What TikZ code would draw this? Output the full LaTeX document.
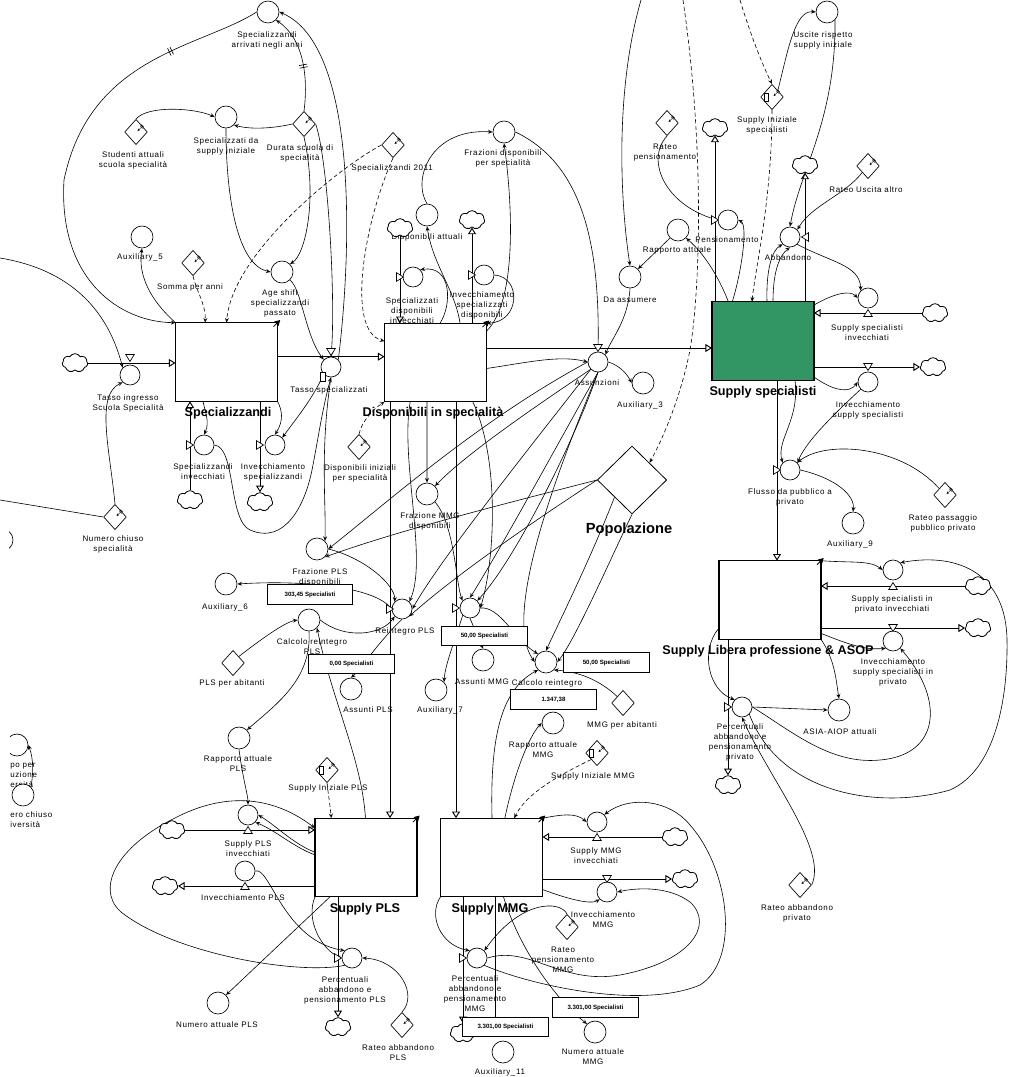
\documentclass[tikz,border=0pt]{standalone}
\usepackage{fontspec}
\newfontfamily\lblfont[LetterSpace=8]{Liberation Sans}
\newfontfamily\stkfont{Liberation Sans}
\usetikzlibrary{shapes.geometric,shapes.symbols,arrows.meta,decorations.markings}
\definecolor{stockgreen}{RGB}{50,150,100}
\pgfdeclarelayer{bg}
\pgfsetlayers{bg,main}
\begin{document}
\begin{tikzpicture}[x=0.75pt,y=-0.75pt,
 stockbox/.style={draw, line width=0.8pt, fill=white, minimum width=76.5pt, minimum height=59pt, inner sep=0, outer sep=0},
 auxc/.style={circle, draw, line width=0.5pt, fill=white, minimum size=16.5pt, inner sep=0},
 valvec/.style={circle, draw, line width=0.5pt, fill=white, minimum size=15pt, inner sep=0},
 constd/.style={diamond, draw, line width=0.5pt, fill=white, minimum width=17pt, minimum height=19pt, inner sep=0},
 cloudn/.style={cloud, cloud puffs=7, cloud puff arc=120, aspect=1.4, draw, line width=0.6pt, fill=white, minimum width=19pt, minimum height=14pt, inner sep=0},
 lbl/.style={font=\lblfont\fontsize{6}{7.5}\selectfont, align=center, inner sep=0},
 stklbl/.style={font=\stkfont\bfseries\fontsize{9.5}{11}\selectfont, inner sep=0},
 valbox/.style={draw, line width=0.7pt, fill=white, minimum width=64pt, minimum height=14.5pt, inner sep=0, font=\stkfont\bfseries\fontsize{4.6}{5}\selectfont},
 flow/.style={line width=0.7pt, -{Triangle[open,length=5pt,width=6pt]}},
 plainln/.style={line width=0.6pt},
 conn/.style={line width=0.45pt, -{Stealth[open,length=3.5pt,width=3pt]}},
 dconn/.style={conn, dash pattern=on 3pt off 2pt},
 delaymk/.style={postaction={decorate, decoration={markings, mark=at position #1 with {\draw[-, solid, line width=0.5pt] (-1pt,-3pt)--(-1pt,3pt) (1pt,-3pt)--(1pt,3pt);}}}},
 vtri/.pic={\draw[line width=0.5pt, fill=white] (-3.2pt,2.6pt) -- (3.2pt,2.6pt) -- (0,-2.6pt) -- cycle;},
 dicon/.pic={\draw[line width=0.35pt,-{Stealth[length=1.8pt,width=1.8pt]}] (5pt,4.5pt) -- (1.2pt,0.8pt); \draw[line width=0.3pt] (3pt,4.8pt)--(5.2pt,2.6pt) (4pt,5.6pt)--(6pt,3.6pt);},
 docicon/.pic={\draw[line width=0.6pt, fill=white] (-6pt,-3.5pt) rectangle (-2.5pt,2.5pt);},
 cornarrow/.pic={\fill (2pt,2pt) -- (-2.5pt,0.8pt) -- (0.8pt,-2.5pt) -- cycle; \draw[line width=0.6pt] (0,0) -- (-3pt,-3pt);}
]
\useasboundingbox (0,0) rectangle (1011,1077);

% ---------------- stocks
\node[stockbox] (spz) at (226.5,362) {};
\node[stockbox] (disp) at (435.5,362.5) {};
\node[stockbox, fill=stockgreen] (sup) at (763,341) {};
\node[stockbox] (lib) at (770,600) {};
\node[stockbox] (pls) at (366,857.5) {};
\node[stockbox] (mmg) at (491.5,857.5) {};
\node[stklbl] (spzl) at (228,413) {Specializzandi};
\node[stklbl] (displ) at (433,413) {Disponibili in specialità};
\node[stklbl] (supl) at (763,392) {Supply specialisti};
\node[stklbl] (libl) at (768,651) {Supply Libera professione \& ASOP};
\node[stklbl] (plsl) at (365,909) {Supply PLS};
\node[stklbl] (mmgl) at (490,909) {Supply MMG};
\node[diamond, draw, line width=0.6pt, fill=white, minimum width=52pt, minimum height=51pt, inner sep=0] (pop) at (632,480) {};
\node[font=\stkfont\bfseries\fontsize{11}{12}\selectfont, inner sep=0] (popl) at (629,530) {Popolazione};

% ---------------- auxiliaries
\node[auxc] (arr) at (268,12) {};
\node[lbl] (arrl) at (267,40) {Specializzandi\\arrivati negli anni};
\node[auxc] (spsi) at (226,117) {};
\node[lbl] (spsil) at (226,146) {Specializzati da\\supply iniziale};
\node[auxc] (a5) at (142,237) {};
\node[lbl] (a5l) at (140,257) {Auxiliary\_5};
\node[auxc] (age) at (282,272) {};
\node[lbl] (agel) at (280,303) {Age shift\\specializzandi\\passato};
\node[auxc] (frd) at (504,132) {};
\node[lbl] (frdl) at (503,158) {Frazioni disponibili\\per specialità};
\node[auxc] (dispatt) at (427,215) {};
\node[lbl] (dispattl) at (427,237) {Disponibili attuali};
\node[auxc] (dass) at (630,277) {};
\node[lbl] (dassl) at (630,300) {Da assumere};
\node[auxc] (rapp) at (678,230) {};
\node[lbl] (rappl) at (677,250) {Rapporto attuale};
\node[auxc] (a3) at (643,383) {};
\node[lbl] (a3l) at (640,405) {Auxiliary\_3};
\node[auxc] (usc) at (827,12) {};
\node[lbl] (uscl) at (823,40) {Uscite rispetto\\supply iniziale};
\node[auxc] (a9) at (853,523) {};
\node[lbl] (a9l) at (850,544) {Auxiliary\_9};
\node[auxc] (asia) at (839,710) {};
\node[lbl] (asial) at (840,732) {ASIA-AIOP attuali};
\node[auxc] (frmmg) at (427,494) {};
\node[lbl] (frmmgl) at (430,521) {Frazione MMG\\disponibili};
\node[auxc] (frpls) at (317,549) {};
\node[lbl] (frplsl) at (320,577) {Frazione PLS\\disponibili};
\node[auxc] (a6) at (226,584) {};
\node[lbl] (a6l) at (225,607) {Auxiliary\_6};
\node[auxc] (cpls) at (309,620) {};
\node[lbl] (cplsl) at (312,647) {Calcolo reintegro\\PLS};
\node[auxc] (apls) at (351,689) {};
\node[lbl] (aplsl) at (368,710) {Assunti PLS};
\node[auxc] (ammg) at (483,660) {};
\node[lbl] (ammgl) at (482,682) {Assunti MMG};
\node[auxc] (a7) at (436,690) {};
\node[lbl] (a7l) at (440,710) {Auxiliary\_7};
\node[auxc] (cmmg) at (546,662) {};
\node[lbl] (cmmgl) at (547,683) {Calcolo reintegro};
\node[auxc] (rmmgA) at (553,723) {};
\node[lbl] (rmmgAl) at (543,750) {Rapporto attuale\\MMG};
\node[auxc] (rpls) at (239,738) {};
\node[lbl] (rplsl) at (238,764) {Rapporto attuale\\PLS};
\node[auxc] (npls) at (218,1003) {};
\node[lbl] (nplsl) at (217,1025) {Numero attuale PLS};
\node[auxc] (a11) at (503,1052) {};
\node[lbl] (a11l) at (500,1072) {Auxiliary\_11};
\node[auxc] (nmmg) at (595,1032) {};
\node[lbl] (nmmgl) at (593,1057) {Numero attuale\\MMG};

% partial elements on the left edge
\begin{scope}
\clip (10,700) rectangle (200,840);
\node[lbl, anchor=north west, align=left] (lp1l) at (10,763) {po per\\uzione\\ersità};
\node[lbl, anchor=north west, align=left] (lp2l) at (10,811) {ero chiuso\\iversità};
\node[auxc] (lp1) at (17,745) {};
\node[auxc] (lp2) at (23,795) {};
\end{scope}
\begin{scope}
\clip (9,520) rectangle (30,560);
\node[auxc] (lp3) at (2,540) {};
\end{scope}

% ---------------- valves
\node[valvec] (vti) at (130,375) {};
\node[lbl] (vtil) at (128,403) {Tasso ingresso\\Scuola Specialità};
\node[valvec] (vts) at (331,367) {};
\node[lbl] (vtsl) at (329,390) {Tasso specializzati};
\node[valvec] (vsi) at (204,445) {};
\node[lbl] (vsil) at (203,472) {Specializzandi\\invecchiati};
\node[valvec] (vis) at (275,445) {};
\node[lbl] (visl) at (273,472) {Invecchiamento\\specializzandi};
\node[valvec] (vsdi) at (413,277) {};
\node[lbl] (vsdil) at (412,311) {Specializzati\\disponibili\\invecchiati};
\node[valvec] (visd) at (484,275) {};
\node[lbl] (visdl) at (482,305) {Invecchiamento\\specializzati\\disponibili};
\node[valvec] (vass) at (598,362) {};
\node[lbl] (vassl) at (597,383) {Assunzioni};
\node[valvec] (vpen) at (728,220) {};
\node[lbl] (vpenl) at (727,240) {Pensionamento};
\node[valvec] (vabb) at (790,237) {};
\node[lbl] (vabbl) at (788,258) {Abbandono};
\node[valvec] (vssi) at (868,298) {};
\node[lbl] (vssil) at (867,333) {Supply specialisti\\invecchiati};
\node[valvec] (viss) at (868,382) {};
\node[lbl] (vissl) at (868,410) {Invecchiamento\\supply specialisti};
\node[valvec] (vflu) at (790,470) {};
\node[lbl] (vflul) at (790,497) {Flusso da pubblico a\\privato};
\node[valvec] (vsspi) at (893,570) {};
\node[lbl] (vsspil) at (892,604) {Supply specialisti in\\privato invecchiati};
\node[valvec] (vissp) at (893,641) {};
\node[lbl] (visspl) at (893,672) {Invecchiamento\\supply specialisti in\\privato};
\node[valvec] (vppri) at (742,707) {};
\node[lbl] (vppril) at (740,742) {Percentuali\\abbandono e\\pensionamento\\privato};
\node[valvec] (vrpls) at (402,609) {};
\node[lbl] (vrplsl) at (405,631) {Reintegro PLS};
\node[valvec] (vrmmg) at (470,608) {};
\node[valvec] (vspi) at (248,815) {};
\node[lbl] (vspil) at (248,849) {Supply PLS\\invecchiati};
\node[valvec] (vipls) at (245,871) {};
\node[lbl] (viplsl) at (243,898) {Invecchiamento PLS};
\node[valvec] (vppls) at (352,958) {};
\node[lbl] (vpplsl) at (345,990) {Percentuali\\abbandono e\\pensionamento PLS};
\node[valvec] (vsmi) at (597,822) {};
\node[lbl] (vsmil) at (596,856) {Supply MMG\\invecchiati};
\node[valvec] (vimmg) at (607,892) {};
\node[lbl] (vimmgl) at (603,920) {Invecchiamento\\MMG};
\node[valvec] (vpmmg) at (477,958) {};
\node[lbl] (vpmmgl) at (475,994) {Percentuali\\abbandono e\\pensionamento\\MMG};

% ---------------- constants
\node[constd] (stu) at (136,132) {};
\node[lbl] (stul) at (133,160) {Studenti attuali\\scuola specialità};
\node[constd] (dur) at (304,124) {};
\node[lbl] (durl) at (300,153) {Durata scuola di\\specialità};
\node[constd] (som) at (193,263) {};
\node[lbl] (soml) at (190,287) {Somma per anni};
\node[constd] (s2011) at (393,145) {};
\node[lbl] (s2011l) at (392,168) {Specializzandi 2011};
\node[constd] (nchi) at (115,517) {};
\node[lbl] (nchil) at (113,544) {Numero chiuso\\specialità};
\node[constd] (dini) at (359,447) {};
\node[lbl] (dinil) at (360,473) {Disponibili iniziali\\per specialità};
\node[constd] (rpen) at (667,123) {};
\node[lbl] (rpenl) at (665,153) {Rateo\\pensionamento};
\node[constd] (ssi) at (772,97) {};
\node[lbl] (ssil) at (767,125) {Supply Iniziale\\specialisti};
\node[constd] (rua) at (868,166) {};
\node[lbl] (rual) at (866,190) {Rateo Uscita altro};
\node[constd] (rpas) at (945,495) {};
\node[lbl] (rpasl) at (943,523) {Rateo passaggio\\pubblico privato};
\node[constd] (rabp) at (800,885) {};
\node[lbl] (rabpl) at (797,913) {Rateo abbandono\\privato};
\node[constd] (plsab) at (233,663) {};
\node[lbl] (plsabl) at (232,683) {PLS per abitanti};
\node[constd] (mmgab) at (623,703) {};
\node[lbl] (mmgabl) at (622,725) {MMG per abitanti};
\node[constd] (simmg) at (597,753) {};
\node[lbl] (simmgl) at (593,776) {Supply Iniziale MMG};
\node[constd] (sipls) at (327,770) {};
\node[lbl] (siplsl) at (328,788) {Supply Iniziale PLS};
\node[constd] (rpmmg) at (567,927) {};
\node[lbl] (rpmmgl) at (563,960) {Rateo\\pensionamento\\MMG};
\node[constd] (rapls) at (402,1025) {};
\node[lbl] (raplsl) at (398,1053) {Rateo abbandono\\PLS};

\foreach \d in {stu,dur,som,s2011,nchi,dini,rpen,ssi,rua,rpas,rabp,simmg,sipls,rpmmg,rapls}{\pic at (\d) {dicon};}
\foreach \d in {ssi,sipls,simmg}{\pic at (\d) {docicon};}

% ---------------- clouds
\node[cloudn] (c1) at (75,363) {};
\node[cloudn] (c2) at (190,500) {};
\node[cloudn] (c3) at (260,502) {};
\node[cloudn] (c4) at (400,228) {};
\node[cloudn] (c5) at (472,220) {};
\node[cloudn] (c6) at (715,128) {};
\node[cloudn] (c7) at (805,165) {};
\node[cloudn] (c8) at (935,313) {};
\node[cloudn] (c9) at (933,367) {};
\node[cloudn] (c10) at (978,586) {};
\node[cloudn] (c11) at (978,628) {};
\node[cloudn] (c12) at (728,785) {};
\node[cloudn] (c13) at (172,830) {};
\node[cloudn] (c14) at (165,886) {};
\node[cloudn] (c15) at (338,1027) {};
\node[cloudn] (c16) at (675,837) {};
\node[cloudn] (c17) at (685,879) {};
\node[cloudn] (c18) at (463,1033) {};

% ---------------- valve triangles and small marks
\pic at (130,358) {vtri};
\pic at (331,352) {vtri};
\pic[rotate=90] at (190,445) {vtri};
\pic[rotate=90] at (260,445) {vtri};
\pic[rotate=90] at (400,277) {vtri};
\pic[rotate=90] at (472,275) {vtri};
\pic at (598,348) {vtri};
\pic[rotate=90] at (715,220) {vtri};
\pic[rotate=-90] at (805,237) {vtri};
\pic[rotate=180] at (868,313) {vtri};
\pic at (868,367) {vtri};
\pic[rotate=90] at (777,470) {vtri};
\pic[rotate=180] at (893,586) {vtri};
\pic at (893,628) {vtri};
\pic[rotate=90] at (728,707) {vtri};
\pic[rotate=90] at (390,609) {vtri};
\pic[rotate=90] at (456,608) {vtri};
\pic[rotate=180] at (248,830) {vtri};
\pic[rotate=180] at (245,886) {vtri};
\pic[rotate=90] at (338,958) {vtri};
\pic[rotate=180] at (597,837) {vtri};
\pic at (607,879) {vtri};
\pic[rotate=90] at (463,958) {vtri};
\draw[line width=0.6pt, fill=white] (320,372) rectangle (325,381);
\foreach \s in {spz,disp,lib,pls,mmg}{\pic at (\s.north east) {cornarrow};}

% ---------------- value boxes
\node[valbox] (vb1) at (310,594.5) {303,45 Specialisti};
\node[valbox] (vb2) at (351.5,664) {0,00 Specialisti};
\node[valbox] (vb3) at (484.5,636) {50,00 Specialisti};
\node[valbox] (vb4) at (606.5,662.5) {50,00 Specialisti};
\node[valbox] (vb5) at (553.5,699.5) {1.347,38};
\node[valbox] (vb6) at (505.5,1027) {3.301,00 Specialisti};
\node[valbox] (vb7) at (595.5,1007.5) {3.301,00 Specialisti};

% ================= connectors (behind the nodes)
\begin{pgfonlayer}{bg}
% flows
\draw[flow] (c1.east) -- (c1.east -| spz.west);
\draw[flow] (spz.east |- vts.north) -- (disp.west |- vts.north);
\coordinate (f3) at (487,348);
\draw[flow] (f3) -- (f3 -| sup.west);
\draw[flow] (c2.north) -- (c2.north |- spz.south);
\draw[flow] (c3.north |- spz.south) -- (c3.north);
\draw[flow] (c4.south) -- (c4.south |- disp.north);
\draw[flow] (c5.south |- disp.north) -- (c5.south);
\draw[flow] (c6.south |- sup.north) -- (c6.south);
\draw[flow] (c7.south |- sup.north) -- (c7.south);
\draw[flow] (c8.west) -- (c8.west -| sup.east);
\draw[flow] (c9.west -| sup.east) -- (c9.west);
\coordinate (f12) at (777,380);
\draw[flow] (f12) -- (f12 |- lib.north);
\draw[flow] (c10.west) -- (c10.west -| lib.east);
\draw[flow] (c11.west -| lib.east) -- (c11.west);
\draw[flow] (c12.north |- lib.south) -- (c12.north);
\coordinate (f16) at (390,402);
\draw[flow] (f16) -- (f16 |- pls.north);
\coordinate (f17) at (456,402);
\draw[flow] (f17) -- (f17 |- mmg.north);
\draw[flow] (c13.east) -- (c13.east -| pls.west);
\draw[flow] (c14.east -| pls.west) -- (c14.east);
\draw[flow] (c15.north |- pls.south) -- (c15.north);
\draw[flow] (c16.west) -- (c16.west -| mmg.east);
\draw[flow] (c17.west -| mmg.east) -- (c17.west);
\draw[flow] (c18.north |- mmg.south) -- (c18.north);
\coordinate (f24) at (495,897);
\draw[plainln] (f24) -- (f24 |- vb6.north);

% info links, top left
\draw[conn] (vts.north east) .. controls (352,250) and (358,45) .. (arr.east);
\draw[conn, delaymk=0.45] (dur.north) .. controls (308,80) and (305,40) .. (arr.south east);
\draw[conn, delaymk=0.2] (arr.west) .. controls (200,48) and (90,55) .. (64,180) .. controls (58,280) and (120,322) .. (spz.north west);
\draw[conn] (spz.north west) .. controls (150,300) and (138,275) .. (a5.south);
\draw[conn] (stu.north) .. controls (148,105) and (195,108) .. (spsi.west);
\draw[conn] (dur.west) .. controls (275,128) and (252,130) .. (spsi.south east);
\draw[conn] (spsi.south) .. controls (226,200) and (238,265) .. (age.west);
\draw[conn] (dur.south) .. controls (318,200) and (305,255) .. (age.north east);
\draw[conn] (age.south east) .. controls (302,290) and (305,335) .. (vts.north west);
\draw[conn] (dur.east) .. controls (328,160) and (336,300) .. (vts.north);
\draw[dconn] (s2011.west) .. controls (335,170) and (232,255) .. (spz.north);
\draw[dconn] (som.south) .. controls (196,290) and (206,305) .. ([xshift=-16pt]spz.north);
\draw[dconn] (s2011.south) .. controls (365,220) and (345,330) .. ([yshift=16pt]disp.west);
\coordinate (le1) at (0,258);
\draw[conn] (le1) .. controls (60,268) and (105,300) .. (vti.north west);
\draw[conn] (nchi.north) .. controls (110,450) and (95,395) .. (vti.south west);
\coordinate (le2) at (0,500);
\draw[line width=0.45pt] (le2) -- (nchi.west);
\draw[conn] (vsi.east) .. controls (236,447) and (228,520) .. (250,530) .. controls (285,545) and (305,505) .. (312,470) .. controls (318,440) and (322,410) .. (vts.south);
\draw[conn] (vts.south west) .. controls (312,400) and (295,420) .. (vis.north east);
\draw[conn] (spz.south east) .. controls (282,410) and (284,420) .. (vis.north);
\draw[conn] ([xshift=-17.6pt]spz.south) .. controls (205,412) and (210,422) .. (vsi.north);
\draw[conn] (vts.south) .. controls (320,450) and (326,500) .. (frpls.north east);
\draw[conn] (lp2.north east) .. controls (33,775) and (34,760) .. (lp1.east);

% Disponibili region
\draw[conn] (dispatt.north) .. controls (412,180) and (430,128) .. (frd.west);
\draw[conn] ([xshift=18.4pt]disp.north) .. controls (455,290) and (433,265) .. (dispatt.south);
\draw[conn] ([xshift=3.4pt]disp.north) .. controls (452,305) and (452,265) .. (vsdi.north east);
\draw[conn] (visd.east) .. controls (522,277) and (520,322) .. (disp.north east);
\draw[conn] ([yshift=-6pt]disp.north east) .. controls (518,300) and (512,200) .. (frd.south);
\draw[conn] (frd.east) .. controls (585,165) and (600,250) .. (vass.north);
\coordinate (tp1) at (641,0);
\draw[conn] (tp1) .. controls (615,90) and (620,200) .. (dass.north);
\draw[conn] (rapp.south west) -- (dass.north east);
\draw[conn] (dass.south) .. controls (628,320) and (612,338) .. (vass.north east);
\draw[conn] ([yshift=-4.5pt]disp.east) .. controls (530,362) and (560,355) .. (vass.west);
\draw[conn] (vass.east) .. controls (618,365) and (626,372) .. (a3.west);

% Supply specialisti region
\draw[conn] ([xshift=-26pt]sup.north) .. controls (716,270) and (700,250) .. (rapp.south east);
\draw[conn] ([xshift=-23pt]sup.north) .. controls (742,270) and (748,225) .. (vpen.east);
\draw[conn] (rpen.south) .. controls (645,160) and (665,205) .. (vpen.west);
\coordinate (tp2) at (683,0);
\draw[dconn] (tp2) .. controls (705,150) and (700,290) .. (690,350) .. controls (680,400) and (662,440) .. (pop.north east);
\coordinate (tp3) at (740,0);
\draw[dconn] (tp3) .. controls (752,40) and (765,70) .. (ssi.north);
\draw[dconn] (ssi.south) .. controls (772,200) and (755,270) .. ([xshift=-8.25pt]sup.north);
\draw[conn] (ssi.north east) .. controls (788,50) and (795,10) .. (usc.west);
\draw[conn] (usc.south east) .. controls (836,120) and (800,170) .. (vabb.north);
\draw[conn] (rua.south west) .. controls (845,195) and (812,205) .. (vabb.north east);
\draw[conn] ([xshift=3pt]sup.north) .. controls (766,270) and (772,250) .. (vabb.south west);
\draw[conn] ([xshift=7.5pt]sup.north) .. controls (773,270) and (780,255) .. (vabb.south);
\draw[conn] (vabb.south east) .. controls (830,262) and (860,265) .. (vssi.north west);
\draw[conn] ([yshift=27pt]sup.east) .. controls (835,293) and (850,290) .. (vssi.west);
\draw[conn] ([yshift=-27pt]sup.east) .. controls (835,392) and (850,393) .. (viss.west);
\draw[conn] ([xshift=24pt]sup.south) .. controls (800,420) and (776,440) .. (vflu.north west);
\draw[conn] (viss.south west) .. controls (822,425) and (805,445) .. (vflu.north east);
\draw[conn] (rpas.north west) .. controls (900,445) and (825,440) .. (vflu.north east);
\draw[conn] (vflu.east) .. controls (835,478) and (855,495) .. (a9.north);

% Supply Libera region
\draw[conn] (lib.north east) .. controls (850,563) and (870,560) .. (vsspi.west);
\draw[conn] ([yshift=-25pt]lib.east) .. controls (850,645) and (865,650) .. (vissp.south west);
\draw[conn] (lib.south east) .. controls (835,660) and (836,680) .. (asia.north);
\draw[conn] ([yshift=-21pt]lib.west) .. controls (700,650) and (708,690) .. (vppri.north west);
\draw[conn] (vppri.east) -- (asia.west);
\draw[conn] (rabp.east) .. controls (828,850) and (770,780) .. (vppri.south);
\draw[conn] (vppri.east) .. controls (790,730) and (830,765) .. (880,760) .. controls (940,755) and (945,700) .. (vissp.south east);
\draw[conn] (vppri.south east) .. controls (780,795) and (880,810) .. (950,790) .. controls (995,770) and (1008,700) .. (1007,640) .. controls (1006,575) and (960,552) .. (vsspi.north east);

% middle
\draw[conn] (vass.south west) .. controls (530,410) and (465,455) .. (frmmg.north east);
\draw[conn] (vass.west) .. controls (480,420) and (390,500) .. (frpls.east);
\draw[conn] (vass.south west) .. controls (520,460) and (440,560) .. (vrpls.east);
\draw[conn] (vass.south) .. controls (560,440) and (500,550) .. (vrmmg.north);
\draw[conn] (vass.south) .. controls (575,440) and (515,560) .. (vrmmg.north east);
\draw[conn] (vass.south) .. controls (545,500) and (505,620) .. (cmmg.west);
\draw[conn] (pop.west) .. controls (500,505) and (400,530) .. (frpls.south east);
\draw[conn] (pop.west) .. controls (520,530) and (450,580) .. (vrpls.south east);
\draw[conn] (pop.south west) .. controls (590,560) and (560,620) .. (cmmg.north);
\draw[conn] (pop.south) .. controls (610,560) and (575,640) .. (cmmg.east);
\draw[conn] (frpls.east) .. controls (365,558) and (395,585) .. (vrpls.north west);
\draw[dconn] (dini.north) .. controls (362,420) and (375,408) .. (disp.south west);
\draw[conn] ([xshift=-6.4pt]disp.south) -- (frmmg.north);
\draw[conn] ([xshift=-19pt]disp.south) .. controls (400,460) and (428,560) .. (vrpls.north east);
\draw[conn] ([xshift=28pt]disp.south) .. controls (500,460) and (495,560) .. (vrmmg.east);
\draw[conn] (frmmg.south east) .. controls (455,525) and (456,585) .. (vrmmg.north west);
\draw[conn] (vrpls.west) .. controls (375,586) and (300,580) .. (a6.east);
\draw[conn] (cpls.east) .. controls (345,640) and (382,635) .. (vrpls.south west);
\draw[conn] (plsab.north east) .. controls (260,640) and (285,622) .. (cpls.west);
\draw[conn] (vrpls.south) .. controls (380,640) and (360,670) .. (apls.north);
\draw[conn] (cpls.south) .. controls (312,680) and (275,705) .. (rpls.north east);
\draw[conn] ([xshift=-0.4pt]pls.north) .. controls (362,760) and (332,700) .. (cpls.south east);
\draw[conn] (vrmmg.east) .. controls (500,606) and (515,640) .. (cmmg.north west);
\draw[conn] (vrmmg.south) -- (ammg.north);
\draw[conn] (vrmmg.south west) .. controls (455,640) and (445,665) .. (a7.north east);
\draw[conn] (mmgab.north west) .. controls (605,685) and (585,672) .. (cmmg.south east);

% MMG side
\draw[conn] ([xshift=0.4pt]mmg.north) .. controls (490,740) and (500,690) .. (cmmg.south west);
\draw[conn] ([xshift=10pt]mmg.north) .. controls (515,770) and (530,735) .. (rmmgA.west);
\draw[dconn] (simmg.south west) .. controls (570,770) and (528,790) .. ([xshift=17pt]mmg.north);
\draw[conn] (mmg.north east) .. controls (560,815) and (575,812) .. (vsmi.west);
\draw[conn] (vpmmg.south east) .. controls (530,985) and (640,1010) .. (700,985) .. controls (740,960) and (730,870) .. (690,825) .. controls (670,800) and (630,795) .. (vsmi.north east);
\draw[conn] (vpmmg.east) .. controls (530,945) and (560,985) .. (620,975) .. controls (690,962) and (715,925) .. (690,902) .. controls (670,887) and (640,887) .. (vimmg.east);
\draw[conn] ([yshift=-24pt]mmg.east) .. controls (565,898) and (590,905) .. (vimmg.south west);
\draw[conn] (rpmmg.north) .. controls (560,900) and (520,900) .. (vpmmg.north east);
\draw[conn] (mmg.south west) .. controls (428,915) and (440,945) .. (vpmmg.north west);
\draw[conn] ([xshift=9pt]mmg.south) .. controls (515,935) and (545,990) .. (nmmg.north west);

% PLS side
\draw[dconn] (sipls.south) .. controls (328,792) and (330,805) .. ([xshift=-26pt]pls.north);
\draw[conn] (rpls.south) .. controls (243,780) and (248,795) .. (vspi.north);
\draw[conn] (vppls.south west) .. controls (300,975) and (180,955) .. (125,915) .. controls (95,895) and (110,850) .. (175,818) .. controls (215,797) and (265,790) .. ([yshift=22pt]pls.west);
\draw[conn] ([yshift=4pt]pls.west) .. controls (295,845) and (275,825) .. (vspi.east);
\draw[conn] ([yshift=2pt]pls.west) .. controls (295,848) and (275,830) .. (vspi.south east);
\draw[conn] (vipls.east) .. controls (270,866) and (283,940) .. (vppls.north west);
\draw[conn] (pls.south west) .. controls (305,920) and (322,950) .. (vppls.west);
\draw[conn] ([xshift=-27pt]pls.south) -- (npls.north east);
\draw[conn] (rapls.north) .. controls (418,995) and (400,960) .. (vppls.east);
\end{pgfonlayer}
\end{tikzpicture}
\end{document}
